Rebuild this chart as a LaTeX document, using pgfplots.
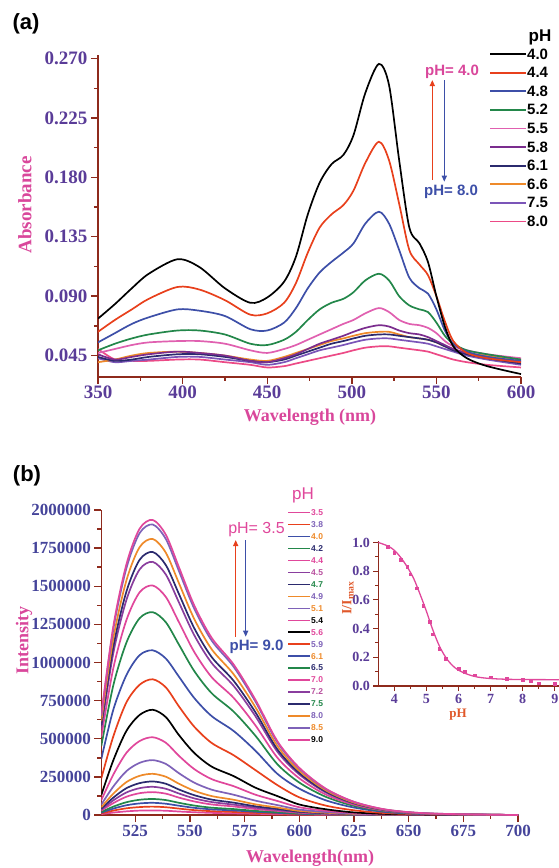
\documentclass[border=0pt]{standalone}
\usepackage{fontspec}
\setmainfont{Liberation Serif}
\newfontfamily\arial{Liberation Sans}
\usepackage{pgfplots}
\pgfplotsset{compat=1.18}
\usepackage{pgfplotstable}
\usetikzlibrary{arrows.meta}

\definecolor{axred}{HTML}{8E2A1C}
\definecolor{ticka}{HTML}{5A3C98}
\definecolor{tickb}{HTML}{45449A}
\definecolor{labpink}{HTML}{D9479B}
\definecolor{laborange}{HTML}{E0582A}
\definecolor{cR}{HTML}{E8401C}
\definecolor{cB}{HTML}{3D4FA8}
\definecolor{cG}{HTML}{23874A}
\definecolor{cP}{HTML}{E060B0}
\definecolor{cPu}{HTML}{7B2D8E}
\definecolor{cN}{HTML}{2B2A6E}
\definecolor{cO}{HTML}{EE8A2A}
\definecolor{cV}{HTML}{7B55B8}
\definecolor{cK}{HTML}{EC4A86}
\definecolor{bP}{HTML}{E0479B}
\definecolor{bPu}{HTML}{8A3E9E}
\definecolor{bV}{HTML}{7E62B8}
\definecolor{bPP}{HTML}{B8509E}

% absorbance, panel (a)
\pgfplotstableread{
wl  c40   c44   c48   c52   c55   c58   c61   c66   c75   c80
350 0.073 0.063 0.055 0.049 0.047 0.046 0.044 0.040 0.043 0.050
360 0.084 0.072 0.062 0.054 0.050 0.042 0.041 0.042 0.040 0.042
370 0.096 0.080 0.069 0.058 0.053 0.044 0.042 0.045 0.041 0.041
380 0.107 0.088 0.074 0.061 0.055 0.046 0.044 0.047 0.042 0.041
397 0.118 0.097 0.080 0.064 0.056 0.048 0.046 0.048 0.044 0.042
410 0.112 0.095 0.079 0.064 0.056 0.047 0.046 0.047 0.044 0.042
425 0.096 0.087 0.075 0.061 0.054 0.045 0.044 0.045 0.042 0.040
440 0.085 0.076 0.065 0.054 0.049 0.041 0.041 0.042 0.040 0.038
450 0.089 0.077 0.064 0.053 0.047 0.040 0.040 0.041 0.038 0.036
460 0.101 0.085 0.070 0.057 0.050 0.043 0.042 0.044 0.040 0.037
467 0.120 0.100 0.081 0.063 0.053 0.046 0.045 0.047 0.043 0.039
474 0.152 0.123 0.096 0.072 0.057 0.050 0.048 0.050 0.046 0.041
481 0.176 0.142 0.108 0.080 0.061 0.054 0.051 0.053 0.049 0.043
488 0.190 0.152 0.116 0.085 0.065 0.057 0.054 0.056 0.051 0.045
495 0.197 0.159 0.123 0.088 0.069 0.060 0.056 0.058 0.053 0.047
501 0.212 0.170 0.130 0.093 0.072 0.063 0.058 0.060 0.055 0.049
508 0.244 0.191 0.145 0.102 0.077 0.066 0.060 0.062 0.057 0.051
516 0.266 0.207 0.154 0.107 0.081 0.068 0.061 0.063 0.058 0.052
522 0.250 0.193 0.145 0.102 0.078 0.067 0.061 0.063 0.058 0.052
528 0.193 0.160 0.125 0.090 0.072 0.064 0.060 0.061 0.057 0.051
534 0.142 0.125 0.104 0.083 0.069 0.062 0.059 0.059 0.056 0.050
540 0.130 0.114 0.096 0.080 0.068 0.061 0.058 0.058 0.055 0.049
545 0.116 0.106 0.092 0.078 0.066 0.059 0.057 0.057 0.054 0.048
550 0.090 0.090 0.080 0.070 0.062 0.056 0.055 0.055 0.052 0.046
555 0.067 0.071 0.064 0.060 0.056 0.053 0.052 0.052 0.050 0.044
560 0.052 0.056 0.054 0.054 0.052 0.050 0.049 0.050 0.048 0.042
568 0.043 0.047 0.048 0.049 0.049 0.047 0.046 0.047 0.045 0.040
580 0.037 0.043 0.044 0.046 0.046 0.044 0.043 0.045 0.042 0.038
600 0.031 0.040 0.041 0.042 0.043 0.040 0.039 0.042 0.038 0.036
}\absdata

% fluorescence intensity, panel (b), in thousands
\pgfplotstableread{
wl    c35 c38 c40 c42 c44 c45 c47 c49 c51 c54 c56 c59 c61  c65  c70  c72  c75  c80  c85  c90
509.5 6   10  15  20  29  35  42  51  68  97  131 240 367  452  512  564  587  615  648  658
515   16  29  42  55  78  96  114 140 187 265 359 516 691  851  963  1062 1104 1158 1219 1238
521   24  44  64  84  120 148 176 216 288 408 552 739 918  1131 1279 1411 1466 1539 1619 1645
527   29  52  76  100 143 176 209 257 342 485 656 854 1048 1290 1460 1610 1673 1756 1848 1877
533   30  55  80  105 150 185 220 270 360 510 690 890 1080 1330 1505 1660 1725 1810 1905 1935
539   28  51  74  98  140 172 205 251 335 474 642 837 1026 1264 1430 1577 1639 1720 1810 1838
545   23  42  61  80  114 141 167 205 274 388 524 712 907  1117 1264 1394 1449 1520 1600 1625
552   18  32  47  62  89  109 130 159 212 301 407 579 767  944  1069 1179 1225 1285 1353 1374
560   14  25  37  48  69  85  101 124 166 235 317 472 648  798  903  996  1035 1086 1143 1161
570   11  20  30  39  56  68  81  100 133 189 255 392 551  678  768  847  880  923  972  987
580   8   14  21  27  39  48  57  70  94  133 179 294 421  519  587  647  673  706  743  755
590   5   10  14  19  27  33  40  49  65  92  124 196 270  333  376  415  431  453  476  484
600   3   6   8   11  15  19  22  27  36  51  69  116 173  213  241  266  276  290  305  310
612   2   3   4   6   8   10  12  15  20  28  38  62  97   120  135  149  155  163  171  174
625   1   1   2   3   4   5   6   7   9   13  17  31  49   60   68   75   78   81   86   87
640   0   1   1   1   2   2   2   3   4   5   7   12  19   24   27   30   31   33   34   35
660   0   0   0   0   0   1   1   1   1   2   2   4   5    7    8    8    9    9    10   10
700   0   0   0   0   0   0   0   0   0   0   0   0   0    0    0    0    0    0    0    0
}\fludata

\pgfplotsset{
  myaxis/.style={
    scale only axis, axis lines*=left,
    axis line style={color=axred, line width=1.6pt},
    tick style={color=axred, line width=1.4pt},
    tick align=outside,
    major tick length=7pt, minor tick length=4pt,
    clip=true,
  },
}

\begin{document}
\begin{tikzpicture}
\path[use as bounding box] (0pt,0pt) rectangle (559pt,-868pt);
\clip (0pt,0pt) rectangle (559pt,-868pt);

% ---------------- panel (a)
\begin{axis}[myaxis,
  at={(98pt,-376.7pt)}, anchor=south west,
  width=423pt, height=321.4pt,
  xmin=350, xmax=600, ymin=0.029, ymax=0.2725,
  xtick={350,400,450,500,550,600},
  xticklabels={350,400,450,500,550,600},
  minor x tick num=1,
  ytick={0.045,0.090,0.135,0.180,0.225,0.270},
  yticklabels={0.045,0.090,0.135,0.180,0.225,0.270},
  minor y tick num=1,
  tick label style={font=\fontsize{19}{19}\selectfont\bfseries, text=ticka},
  xticklabel style={yshift=1pt},
  every axis plot/.append style={line width=1.7pt, smooth, no marks},
]
\addplot[cK]  table[x=wl,y=c80] {\absdata};
\addplot[cV]  table[x=wl,y=c75] {\absdata};
\addplot[cO]  table[x=wl,y=c66] {\absdata};
\addplot[cN]  table[x=wl,y=c61] {\absdata};
\addplot[cPu] table[x=wl,y=c58] {\absdata};
\addplot[cP]  table[x=wl,y=c55] {\absdata};
\addplot[cG]  table[x=wl,y=c52] {\absdata};
\addplot[cB]  table[x=wl,y=c48] {\absdata};
\addplot[cR]  table[x=wl,y=c44] {\absdata};
\addplot[black] table[x=wl,y=c40] {\absdata};
\end{axis}

\node[font=\arial\bfseries\fontsize{22}{22}\selectfont] at (26pt,-24pt) {(a)};
\node[rotate=90, font=\fontsize{19}{19}\selectfont\bfseries, text=labpink] at (25pt,-205pt) {Absorbance};
\node[font=\fontsize{18}{18}\selectfont\bfseries, text=labpink] at (310pt,-417pt) {Wavelength (nm)};

% legend (a)
\node[font=\arial\bfseries\fontsize{17}{17}\selectfont] at (540pt,-37pt) {pH};
\foreach \v/\c [count=\i from 0] in {4.0/black,4.4/cR,4.8/cB,5.2/cG,5.5/cP,5.8/cPu,6.1/cN,6.6/cO,7.5/cV,8.0/cK}{
  \draw[\c, line width=1.8pt] (490pt,{-(54+18.6*\i)*1pt}) -- (526pt,{-(54+18.6*\i)*1pt});
  \node[anchor=west, inner sep=1pt, font=\arial\bfseries\fontsize{15}{15}\selectfont] at (526pt,{-(54+18.6*\i)*1pt}) {\v};
}
\draw[cR, line width=1.3pt, -{Triangle[length=6pt,width=5pt]}] (432.3pt,-180pt) -- (432.3pt,-80pt);
\draw[cB, line width=1.3pt, -{Triangle[length=6pt,width=5pt]}] (444.3pt,-80pt) -- (444.3pt,-181.7pt);
\node[font=\arial\bfseries\fontsize{15}{15}\selectfont, text=labpink] at (452pt,-72pt) {pH= 4.0};
\node[font=\arial\bfseries\fontsize{15}{15}\selectfont, text=cB] at (451pt,-192pt) {pH= 8.0};

% ---------------- panel (b)
\begin{axis}[myaxis,
  at={(101.3pt,-815pt)}, anchor=south west,
  width=416.7pt, height=305pt,
  xmin=509.5, xmax=700, ymin=0, ymax=2000000,
  xtick={525,550,575,600,625,650,675,700},
  xticklabels={525,550,575,600,625,650,675,700},
  minor x tick num=1,
  ytick={0,250000,500000,750000,1000000,1250000,1500000,1750000,2000000},
  yticklabels={0,250000,500000,750000,1000000,1250000,1500000,1750000,2000000},
  minor y tick num=1,
  scaled y ticks=false,
  tick label style={font=\fontsize{17}{17}\selectfont\bfseries, text=tickb},
  every axis plot/.append style={line width=1.7pt, smooth, no marks},
]
\addplot[bP]    table[x=wl,y expr=1000*\thisrow{c35}] {\fludata};
\addplot[cR]    table[x=wl,y expr=1000*\thisrow{c38}] {\fludata};
\addplot[cB]    table[x=wl,y expr=1000*\thisrow{c40}] {\fludata};
\addplot[cG]    table[x=wl,y expr=1000*\thisrow{c42}] {\fludata};
\addplot[bP]    table[x=wl,y expr=1000*\thisrow{c44}] {\fludata};
\addplot[bPu]   table[x=wl,y expr=1000*\thisrow{c45}] {\fludata};
\addplot[cN]    table[x=wl,y expr=1000*\thisrow{c47}] {\fludata};
\addplot[cO]    table[x=wl,y expr=1000*\thisrow{c49}] {\fludata};
\addplot[bV]    table[x=wl,y expr=1000*\thisrow{c51}] {\fludata};
\addplot[bP]    table[x=wl,y expr=1000*\thisrow{c54}] {\fludata};
\addplot[black] table[x=wl,y expr=1000*\thisrow{c56}] {\fludata};
\addplot[cR]    table[x=wl,y expr=1000*\thisrow{c59}] {\fludata};
\addplot[cB]    table[x=wl,y expr=1000*\thisrow{c61}] {\fludata};
\addplot[cG]    table[x=wl,y expr=1000*\thisrow{c65}] {\fludata};
\addplot[bP]    table[x=wl,y expr=1000*\thisrow{c70}] {\fludata};
\addplot[bPu]   table[x=wl,y expr=1000*\thisrow{c72}] {\fludata};
\addplot[cN]    table[x=wl,y expr=1000*\thisrow{c75}] {\fludata};
\addplot[cO]    table[x=wl,y expr=1000*\thisrow{c80}] {\fludata};
\addplot[bV]    table[x=wl,y expr=1000*\thisrow{c85}] {\fludata};
\addplot[bP]    table[x=wl,y expr=1000*\thisrow{c90}] {\fludata};
\end{axis}

\node[font=\arial\bfseries\fontsize{22}{22}\selectfont] at (27pt,-476pt) {(b)};
\node[rotate=90, font=\fontsize{18}{18}\selectfont\bfseries, text=labpink] at (24pt,-640pt) {Intensity};
\node[font=\fontsize{18}{18}\selectfont\bfseries, text=labpink] at (310pt,-858pt) {Wavelength(nm)};

% legend (b)
\node[font=\arial\fontsize{17}{17}\selectfont, text=bP] at (303pt,-495pt) {pH};
\foreach \v/\c/\t [count=\i from 0] in {3.5/bP/bP,3.8/cR/bV,4.0/cB/cO,4.2/cG/cN,4.4/bP/bP,4.5/bPu/bPP,4.7/cN/cG,4.9/cO/bV,5.1/bV/cO,5.4/bP/black,5.6/black/bP,5.9/cR/bV,6.1/cB/cO,6.5/cG/cN,7.0/bP/bP,7.2/bPu/bPP,7.5/cN/cG,8.0/cO/bV,8.5/bV/cO,9.0/bP/black}{
  \draw[\c, line width=1.5pt] (288.3pt,{-(512.7+11.95*\i)*1pt}) -- (310pt,{-(512.7+11.95*\i)*1pt});
  \node[anchor=west, inner sep=1pt, text=\t, font=\arial\bfseries\fontsize{8.5}{8.5}\selectfont] at (310pt,{-(512.7+11.95*\i)*1pt}) {\v};
}
\draw[cR, line width=1.3pt, -{Triangle[length=6pt,width=5pt]}] (235.7pt,-636.7pt) -- (235.7pt,-540pt);
\draw[cB, line width=1.3pt, -{Triangle[length=6pt,width=5pt]}] (245.7pt,-540pt) -- (245.7pt,-636.7pt);
\node[font=\arial\fontsize{16}{16}\selectfont, text=bP] at (256.5pt,-530pt) {pH= 3.5};
\node[font=\arial\bfseries\fontsize{15}{15}\selectfont, text=cB] at (256.5pt,-647pt) {pH= 9.0};

% ---------------- inset
\begin{axis}[myaxis,
  at={(378.3pt,-686pt)}, anchor=south west,
  width=180.7pt, height=145pt,
  xmin=3.5, xmax=9.13, ymin=0, ymax=1.01,
  axis line style={color=axred, line width=1.4pt},
  tick style={color=axred, line width=1.1pt},
  major tick length=5pt, minor tick length=3pt,
  xtick={4,5,6,7,8,9}, xticklabels={4,5,6,7,8,9},
  minor x tick num=1,
  ytick={0,0.2,0.4,0.6,0.8,1.0},
  yticklabels={0.0,0.2,0.4,0.6,0.8,1.0},
  minor y tick num=1,
  tick label style={font=\fontsize{14}{14}\selectfont\bfseries, text=ticka},
  clip=false,
]
\addplot[bP, line width=1.3pt, smooth, no marks] coordinates {
 (3.5,1.0) (3.8,0.975) (4.0,0.945) (4.2,0.895) (4.4,0.83) (4.6,0.75) (4.8,0.64)
 (5.0,0.52) (5.2,0.39) (5.4,0.28) (5.6,0.20) (5.8,0.145) (6.0,0.11) (6.3,0.08)
 (6.6,0.062) (7.0,0.052) (7.5,0.047) (8.0,0.045) (9.13,0.044)};
\addplot[bP, only marks, mark=square*, mark size=1.3pt] coordinates {
 (3.8,0.97) (4.0,0.93) (4.2,0.88) (4.4,0.83) (4.5,0.78) (4.7,0.68) (4.9,0.56)
 (5.1,0.45) (5.2,0.36) (5.4,0.26) (5.6,0.19) (6.0,0.12) (6.2,0.10) (6.5,0.075)
 (7.0,0.06) (7.5,0.052) (8.0,0.046) (8.25,0.035) (8.5,0.02) (9.0,0.015)};
\end{axis}
\node[rotate=90, font=\fontsize{14}{14}\selectfont\bfseries, text=laborange] at (348pt,-598pt) {I/I\textsubscript{max}};
\node[font=\fontsize{13}{13}\selectfont\bfseries, text=laborange] at (458pt,-715pt) {pH};
\end{tikzpicture}
\end{document}
